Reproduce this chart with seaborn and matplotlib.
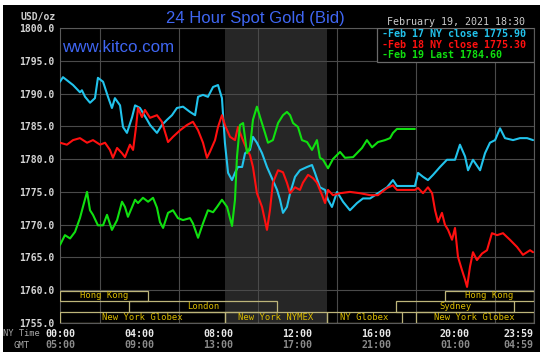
import numpy as np
import pandas as pd
import matplotlib
matplotlib.use("Agg")
import matplotlib.pyplot as plt
import matplotlib.transforms as mtransforms
from matplotlib.patches import Rectangle
import seaborn as sns

# hours after NY midnight -> bid price (USD/oz)
feb17_hours = [0, 0.15, 0.66, 1.01, 1.11, 1.27, 1.52, 1.77, 1.92, 2.18, 2.43, 2.63, 2.78, 3.04,
               3.19, 3.39, 3.65, 3.80, 4.05, 4.41, 4.56, 4.91, 5.16, 5.42, 5.67, 5.92, 6.23,
               6.58, 6.84, 6.99, 7.24, 7.49, 7.75, 8.0, 8.20, 8.35, 8.51, 8.71, 8.86, 9.01,
               9.22, 9.37, 9.62, 9.77, 9.97, 10.23, 10.48, 10.73, 10.99, 11.14, 11.29, 11.49,
               11.65, 11.90, 12.15, 12.51, 12.76, 12.91, 13.16, 13.42, 13.57, 13.77, 14.03,
               14.33, 14.68, 15.04, 15.34, 15.70, 16.10, 16.56, 16.86, 17.06, 17.97, 18.13,
               18.38, 18.63, 18.89, 19.24, 19.59, 20.0, 20.25, 20.51, 20.66, 20.91, 21.27,
               21.52, 21.77, 22.03, 22.28, 22.53, 22.94, 23.29, 23.65, 23.95]
feb17_price = [1791.8, 1792.5, 1791.3, 1790.2, 1790.5, 1789.5, 1788.6, 1789.3, 1792.4, 1791.8,
               1789.5, 1787.8, 1789.3, 1788.2, 1784.9, 1784.0, 1786.4, 1788.2, 1787.8, 1786.0,
               1785.2, 1784.0, 1785.2, 1786.0, 1786.7, 1787.8, 1788.0, 1787.2, 1786.7, 1789.5,
               1789.8, 1789.5, 1791.0, 1791.3, 1789.3, 1782.5, 1777.9, 1776.8, 1777.9, 1778.8,
               1778.8, 1780.9, 1781.4, 1783.4, 1782.5, 1780.9, 1778.8, 1777.1, 1775.3, 1773.8,
               1771.8, 1772.7, 1774.8, 1777.3, 1778.3, 1778.8, 1779.1, 1777.9, 1775.7, 1775.3,
               1773.8, 1772.7, 1775.0, 1773.5, 1772.2, 1773.3, 1774.0, 1774.0, 1774.8, 1775.7,
               1776.8, 1775.9, 1775.9, 1777.9, 1777.3, 1776.8, 1777.6, 1778.8, 1779.9, 1779.9,
               1782.2, 1780.4, 1778.3, 1779.9, 1778.3, 1780.9, 1782.5, 1782.9, 1784.7, 1783.2,
               1782.9, 1783.2, 1783.2, 1782.9]

feb18_hours = [0, 0.35, 0.66, 1.01, 1.37, 1.67, 2.03, 2.28, 2.53, 2.68, 2.89, 3.14, 3.29, 3.54,
               3.70, 3.85, 3.95, 4.15, 4.30, 4.56, 4.91, 5.16, 5.32, 5.47, 5.72, 6.08, 6.43,
               6.73, 6.99, 7.24, 7.44, 7.59, 7.85, 8.0, 8.20, 8.35, 8.61, 8.86, 9.01, 9.22,
               9.47, 9.62, 9.77, 9.97, 10.23, 10.48, 10.63, 10.78, 11.04, 11.29, 11.49, 11.65,
               11.90, 12.15, 12.30, 12.56, 12.81, 13.01, 13.27, 13.42, 13.57, 13.82, 14.18,
               14.68, 15.19, 15.70, 16.10, 16.56, 16.86, 17.06, 17.97, 18.13, 18.38, 18.63,
               18.84, 18.99, 19.14, 19.34, 19.49, 19.65, 19.85, 20.0, 20.15, 20.35, 20.51,
               20.61, 20.76, 20.91, 21.11, 21.37, 21.62, 21.87, 22.13, 22.43, 22.78, 23.14,
               23.44, 23.80, 23.95]
feb18_price = [1782.5, 1782.2, 1782.9, 1783.2, 1782.5, 1782.9, 1782.2, 1782.5, 1781.4, 1780.2,
               1781.7, 1780.9, 1780.3, 1782.2, 1781.4, 1784.9, 1787.8, 1786.4, 1787.5, 1786.3,
               1786.7, 1785.7, 1784.1, 1782.6, 1783.4, 1784.4, 1785.2, 1785.7, 1784.4, 1782.5,
               1780.2, 1781.1, 1782.9, 1784.9, 1786.7, 1785.2, 1783.4, 1782.9, 1784.9, 1783.2,
               1781.4, 1780.6, 1778.8, 1774.8, 1772.7, 1769.2, 1772.2, 1776.4, 1778.3, 1778.0,
               1776.4, 1774.8, 1775.7, 1775.3, 1776.4, 1777.6, 1777.1, 1776.4, 1774.5, 1773.3,
               1775.3, 1774.5, 1774.8, 1775.0, 1774.8, 1774.5, 1774.5, 1775.6, 1776.0, 1775.3,
               1775.3, 1775.6, 1774.8, 1775.7, 1774.8, 1772.2, 1770.4, 1771.8, 1770.0, 1769.2,
               1767.7, 1769.5, 1765.1, 1763.1, 1761.6, 1760.5, 1763.6, 1765.8, 1764.6, 1765.6,
               1766.1, 1768.7, 1768.4, 1768.7, 1767.7, 1766.6, 1765.4, 1766.1, 1765.8]

feb19_hours = [0, 0.25, 0.51, 0.76, 1.01, 1.16, 1.37, 1.52, 1.67, 1.92, 2.18, 2.38, 2.63, 2.89,
               3.14, 3.29, 3.44, 3.65, 3.80, 3.95, 4.20, 4.46, 4.71, 4.91, 5.06, 5.22, 5.47,
               5.72, 5.97, 6.23, 6.58, 6.73, 6.99, 7.24, 7.49, 7.75, 7.95, 8.20, 8.46, 8.71,
               8.86, 8.96, 9.11, 9.27, 9.47, 9.62, 9.77, 9.97, 10.13, 10.38, 10.53, 10.78,
               11.04, 11.29, 11.49, 11.65, 11.80, 12.05, 12.25, 12.51, 12.76, 13.01, 13.16,
               13.32, 13.57, 13.82, 14.18, 14.43, 14.84, 15.29, 15.54, 15.80, 16.10, 16.46,
               16.71, 16.86, 17.06, 17.97]
feb19_price = [1766.9, 1768.4, 1767.9, 1768.9, 1771.0, 1772.7, 1775.0, 1772.2, 1771.5, 1769.9,
               1769.9, 1771.5, 1769.2, 1770.7, 1773.5, 1772.7, 1771.2, 1772.7, 1773.8, 1773.3,
               1774.1, 1773.5, 1774.1, 1772.6, 1770.4, 1769.5, 1771.8, 1772.2, 1771.0, 1770.7,
               1771.0, 1770.2, 1768.0, 1770.2, 1772.2, 1771.9, 1772.7, 1773.8, 1772.7, 1769.8,
               1773.8, 1780.3, 1785.2, 1785.5, 1780.9, 1781.8, 1786.0, 1788.0, 1786.4, 1784.0,
               1782.5, 1782.9, 1785.5, 1786.7, 1787.2, 1786.7, 1785.5, 1784.9, 1782.9, 1782.6,
               1781.4, 1782.9, 1780.2, 1779.9, 1778.6, 1780.0, 1781.1, 1780.2, 1780.3, 1781.7,
               1782.9, 1781.8, 1782.6, 1782.9, 1783.2, 1784.0, 1784.6, 1784.6]

day_names = ["Feb 17", "Feb 18", "Feb 19"]
day_colors = ["#22c3ec", "#ff1010", "#10e010"]
legend_labels = ["-Feb 17 NY close 1775.90", "-Feb 18 NY close 1775.30", "-Feb 19 Last 1784.60"]

ny_ticks = [0, 4, 8, 12, 16, 20, 23.983]
ny_labels = ["00:00", "04:00", "08:00", "12:00", "16:00", "20:00", "23:59"]
gmt_labels = ["05:00", "09:00", "13:00", "17:00", "21:00", "01:00", "04:59"]
y_ticks = [1755, 1760, 1765, 1770, 1775, 1780, 1785, 1790, 1795, 1800]

session_names = ["Hong Kong", "London", "New York Globex", "New York NYMEX",
                 "NY Globex", "Sydney", "Hong Kong", "New York Globex"]
session_start = [0, 3.5, 0, 8.33, 13.5, 17.0, 19.5, 18.0]
session_end = [4.46, 11.0, 8.33, 13.5, 17.3, 23.0, 23.983, 23.983]
session_row = [0, 1, 2, 2, 2, 1, 0, 2]

df = pd.concat([
    pd.DataFrame({"hour": feb17_hours, "price": feb17_price, "day": "Feb 17"}),
    pd.DataFrame({"hour": feb18_hours, "price": feb18_price, "day": "Feb 18"}),
    pd.DataFrame({"hour": feb19_hours, "price": feb19_price, "day": "Feb 19"}),
])

sns.set_theme(style="dark", rc={
    "figure.facecolor": "white",
    "axes.facecolor": "black",
    "axes.edgecolor": "#5a5a5a",
    "axes.linewidth": 0.8,
    "grid.color": "#4a4a4a",
    "grid.linewidth": 0.8,
})
plt.rcParams["font.family"] = ["DejaVu Sans Mono"]

fig = plt.figure(figsize=(5.5, 3.62), dpi=100)
fig.patches.append(Rectangle((3 / 550, 1 - 352 / 362), 537 / 550, 347 / 362,
                             transform=fig.transFigure, facecolor="black",
                             edgecolor="none", zorder=-5))
ax = fig.add_axes([60 / 550, 39 / 362, 474 / 550, 295 / 362])

# COMEX trading window
ax.axvspan(8.33, 13.5, color="#262626", zorder=0, lw=0)

sns.lineplot(data=df, x="hour", y="price", hue="day", hue_order=day_names,
             palette=dict(zip(day_names, day_colors)), estimator=None, sort=False,
             legend=False, linewidth=1.5, ax=ax, zorder=3)

ax.set_xlim(0, 23.983)
ax.set_ylim(1755, 1800)
ax.set_xlabel("")
ax.set_ylabel("")

ax.set_yticks(y_ticks)
ax.set_yticklabels([f"{v:.1f}" for v in y_ticks])
ax.set_xticks(ny_ticks)
ax.set_xticklabels(ny_labels)
ax.set_xticks(np.arange(0, 25, 2), minor=True)
ax.tick_params(which="both", length=0)
ax.tick_params(axis="y", pad=4, labelcolor="#d4d4d4", labelsize=7)
ax.tick_params(axis="x", pad=4.5, labelcolor="#e8e8e8", labelsize=7.2)
for lbl in ax.get_yticklabels() + ax.get_xticklabels():
    lbl.set_fontweight("bold")
ax.get_xticklabels()[-1].set_ha("right")

ax.grid(True, which="minor", axis="x", zorder=1)
ax.grid(True, which="major", axis="y", zorder=1)
ax.set_axisbelow(True)

# trading session boxes
row_h = 1.65
for name, s, e, r in zip(session_names, session_start, session_end, session_row):
    top = 1759.95 - r * row_h
    ax.add_patch(Rectangle((s, top - row_h), e - s, row_h, facecolor="none",
                           edgecolor="#bdb57a", linewidth=0.9, zorder=4))
    ax.text((s + e) / 2, top - row_h / 2, name, ha="center", va="center",
            color="#dcbc00", fontsize=6.4, zorder=5)

# GMT row under the NY times
trans = mtransforms.blended_transform_factory(ax.transData, fig.transFigure)
for i, (x, lab) in enumerate(zip(ny_ticks, gmt_labels)):
    ax.text(x, 1 - 345 / 362, lab, transform=trans, ha="right" if i == len(ny_ticks) - 1 else "center",
            va="center", color="#8a8a8a", fontsize=7.2, fontweight="bold", clip_on=False)
fig.text(3 / 550, 1 - 333 / 362, "NY Time", ha="left", va="center", color="#a8a8a8", fontsize=6.3)
fig.text(13 / 550, 1 - 345 / 362, "GMT", ha="left", va="center", color="#a8a8a8", fontsize=6.5)

# header texts
fig.text(38 / 550, 1 - 17 / 362, "USD/oz", ha="center", va="center", color="#cfcfcf",
         fontsize=7, fontweight="bold")
fig.text(255 / 550, 1 - 18 / 362, "24 Hour Spot Gold (Bid)", ha="center", va="center",
         color="#3f66f2", fontsize=12, family="Liberation Sans")
fig.text(62 / 550, 1 - 47 / 362, "www.kitco.com", ha="left", va="center",
         color="#3f66f2", fontsize=12.2, family="Liberation Sans")
fig.text(456 / 550, 1 - 22 / 362, "February 19, 2021 18:30", ha="center", va="center",
         color="#cccccc", fontsize=7.2)

# legend box
ax.add_patch(Rectangle((16.05, 1794.8), 23.983 - 16.05, 5.2, facecolor="black",
                       edgecolor="#6a6a6a", linewidth=0.9, zorder=6))
for i, (lab, col) in enumerate(zip(legend_labels, day_colors)):
    ax.text(0.679, 0.98 - i * 0.036, lab, transform=ax.transAxes, ha="left", va="center",
            color=col, fontsize=7.2, fontweight="bold", zorder=7)

fig.savefig("out.png", dpi=100, facecolor="white")
